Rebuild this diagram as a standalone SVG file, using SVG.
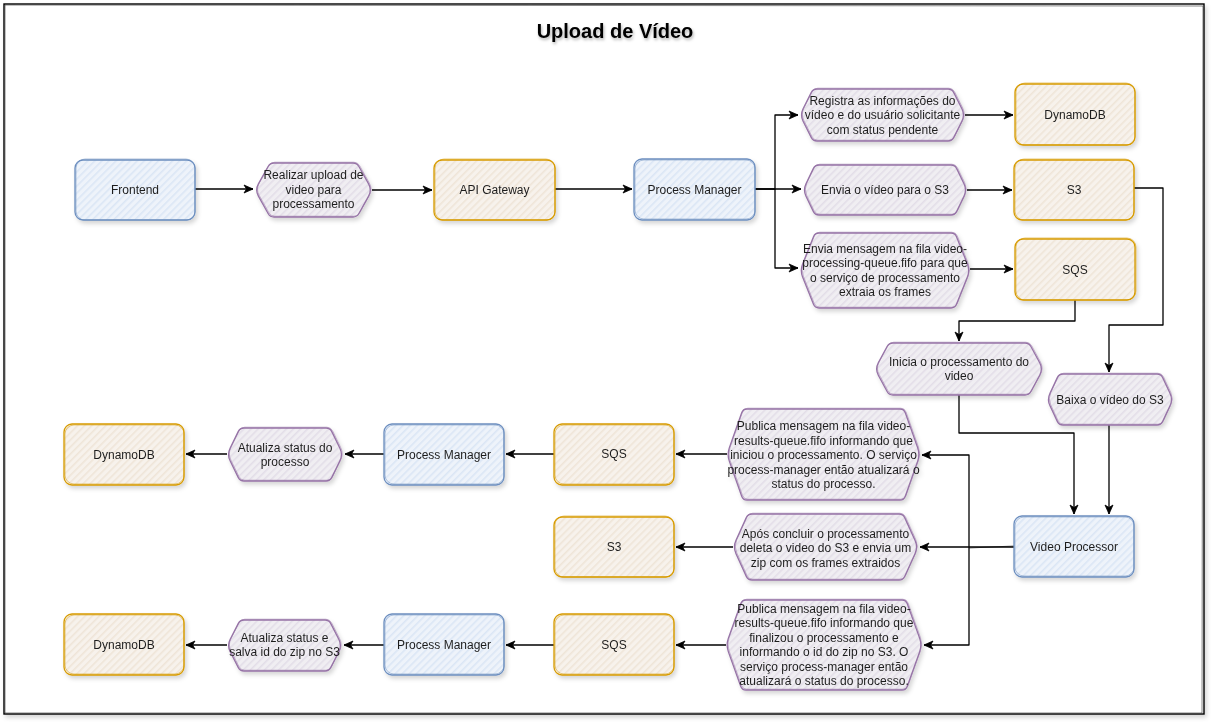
<svg xmlns="http://www.w3.org/2000/svg" width="1213" height="723" viewBox="0 0 1213 723">
<style>
  text { font-family: "Liberation Sans", Arial, sans-serif; font-size: 12px; fill: #1e1e1e; text-anchor: middle; }
  .title { font-size: 20px; font-weight: bold; fill: #000; }
  .blue { fill: url(#hBlue); stroke: #6c8ebf; stroke-width: 1.3; }
  .orange { fill: url(#hOrange); stroke: #d79b00; stroke-width: 1.3; }
  .purple { fill: url(#hPurple); stroke: #9673a6; stroke-width: 1.3; stroke-linejoin: round; }
  .sk { fill: none; stroke-width: 0.8; stroke-opacity: 0.65; }
  .skb { stroke: #6c8ebf; } .sko { stroke: #d79b00; } .skp { stroke: #9673a6; stroke-linejoin: round; }
  .node { filter: url(#shadow); }
  .edge { fill: none; stroke: #000; stroke-width: 1.3; marker-end: url(#arrow); stroke-linejoin: round; }
  .edge2 { fill: none; stroke: #000; stroke-width: 0.7; stroke-opacity: 0.8; }
</style>
<defs>
  <pattern id="hBlue" patternUnits="userSpaceOnUse" width="5" height="5" patternTransform="rotate(45)">
    <rect width="5" height="5" fill="#eef3fa"/>
    <rect width="1.6" height="5" fill="#dbe6f5"/>
  </pattern>
  <pattern id="hOrange" patternUnits="userSpaceOnUse" width="5" height="5" patternTransform="rotate(45)">
    <rect width="5" height="5" fill="#f7f2ec"/>
    <rect width="1.6" height="5" fill="#efe5d8"/>
  </pattern>
  <pattern id="hPurple" patternUnits="userSpaceOnUse" width="5" height="5" patternTransform="rotate(45)">
    <rect width="5" height="5" fill="#f0eef2"/>
    <rect width="1.6" height="5" fill="#e3dee8"/>
  </pattern>
  <filter id="shadow" x="-10%" y="-10%" width="130%" height="140%">
    <feDropShadow dx="2" dy="3" stdDeviation="2" flood-color="#000" flood-opacity="0.16"/>
  </filter>
  <filter id="tshadow" x="-10%" y="-30%" width="130%" height="180%">
    <feDropShadow dx="1" dy="2" stdDeviation="1.5" flood-color="#000" flood-opacity="0.3"/>
  </filter>
  <marker id="arrow" markerUnits="userSpaceOnUse" markerWidth="12" markerHeight="10" refX="10" refY="5" orient="auto">
    <path d="M1,1 L10,5 L1,9 L3.5,5 Z" fill="#000" stroke="#000" stroke-width="0.8" stroke-linejoin="round"/>
  </marker>
</defs>

<rect width="1213" height="723" fill="#fff"/>
<g id="frame" filter="url(#shadow)">
  <rect x="4" y="4" width="1200" height="710" fill="#fff" stroke="#000" stroke-width="1.4"/>
  <path d="M5,5 L1203,6 L1202,713 L5,713 Z" fill="none" stroke="#333" stroke-width="0.6"/>
</g>
<text id="title" class="title" x="615" y="38" filter="url(#tshadow)">Upload de Vídeo</text>

<g id="connectors">
  <path class="edge" d="M195,189 L253,189"/>
  <path class="edge" d="M372,190 L432,190"/>
  <path class="edge" d="M555,189 L632,189"/>
  <path class="edge" d="M755,189 L775,189 L775,115 L798,115"/>
  <path class="edge" d="M755,189 L801,189"/>
  <path class="edge" d="M775,189 L775,268 L798,268"/>
  <path class="edge" d="M965,115 L1013,115"/>
  <path class="edge" d="M967,190 L1012,190"/>
  <path class="edge" d="M970,269 L1013,269"/>
  <path class="edge" d="M1134,188 L1163,188 L1163,325 L1109,325 L1109,372"/>
  <path class="edge" d="M1075,300 L1075,321 L959,321 L959,341"/>
  <path class="edge" d="M959,395 L959,433 L1074,433 L1074,514"/>
  <path class="edge" d="M1109,425 L1109,514"/>
  <path class="edge" d="M1014,547 L920,547"/>
  <path class="edge2" d="M1014,546 L969,548"/>
  <path class="edge" d="M969,547 L969,455 L922,455"/>
  <path class="edge" d="M969,547 L969,645 L924,645"/>
  <path class="edge" d="M733,547 L676,547"/>
  <path class="edge" d="M727,454 L676,454"/>
  <path class="edge" d="M554,454 L506,454"/>
  <path class="edge" d="M384,454 L345,454"/>
  <path class="edge" d="M227,454 L186,454"/>
  <path class="edge" d="M726,645 L676,645"/>
  <path class="edge" d="M554,645 L506,645"/>
  <path class="edge" d="M384,645 L344,645"/>
  <path class="edge" d="M227,645 L186,645"/>
</g>

<g id="frontend" class="node">
  <rect class="blue" x="75" y="160" width="120" height="60" rx="8"/>
  <rect class="sk skb" x="76" y="159" width="119" height="61" rx="9"/>
  <text x="135" y="194">Frontend</text>
</g>
<g id="hex-upload" class="node">
  <path class="purple" d="M274,163 L353,163 Q357,163 358.9,166.5 L368.6,183.9 Q372,190 368.6,196.1 L358.9,213.5 Q357,217 353,217 L274,217 Q270,217 268.1,213.5 L258.4,196.1 Q255,190 258.4,183.9 L268.1,166.5 Q270,163 274,163 Z"/>
  <path class="sk skp" transform="translate(0.8,-0.8)" d="M274,163 L353,163 Q357,163 358.9,166.5 L368.6,183.9 Q372,190 368.6,196.1 L358.9,213.5 Q357,217 353,217 L274,217 Q270,217 268.1,213.5 L258.4,196.1 Q255,190 258.4,183.9 L268.1,166.5 Q270,163 274,163 Z"/>
  <text><tspan x="313.5" y="179">Realizar upload de</tspan><tspan x="313.5" y="193.5">video para</tspan><tspan x="313.5" y="208">processamento</tspan></text>
</g>
<g id="api-gateway" class="node">
  <rect class="orange" x="434" y="160" width="121" height="60" rx="8"/>
  <rect class="sk sko" x="435" y="159" width="120" height="61" rx="9"/>
  <text x="494.5" y="194">API Gateway</text>
</g>
<g id="process-manager-1" class="node">
  <rect class="blue" x="634" y="159" width="121" height="61" rx="8"/>
  <rect class="sk skb" x="635" y="160" width="120" height="59" rx="9"/>
  <text x="694.5" y="194">Process Manager</text>
</g>
<g id="hex-registra" class="node">
  <path class="purple" d="M817,89 L948,89 Q952,89 953.8,92.6 L961.9,108.7 Q965,115 961.9,121.3 L953.8,137.4 Q952,141 948,141 L817,141 Q813,141 811.2,137.4 L803.1,121.3 Q800,115 803.1,108.7 L811.2,92.6 Q813,89 817,89 Z"/>
  <path class="sk skp" transform="translate(0.8,-0.8)" d="M817,89 L948,89 Q952,89 953.8,92.6 L961.9,108.7 Q965,115 961.9,121.3 L953.8,137.4 Q952,141 948,141 L817,141 Q813,141 811.2,137.4 L803.1,121.3 Q800,115 803.1,108.7 L811.2,92.6 Q813,89 817,89 Z"/>
  <text><tspan x="882.5" y="104.5">Registra as informações do</tspan><tspan x="882.5" y="119">vídeo e do usuário solicitante</tspan><tspan x="882.5" y="133.5">com status pendente</tspan></text>
</g>
<g id="dynamodb-1" class="node">
  <rect class="orange" x="1015" y="84" width="120" height="61" rx="8"/>
  <rect class="sk sko" x="1016" y="83" width="119" height="62" rx="9"/>
  <text x="1075" y="119">DynamoDB</text>
</g>
<g id="hex-envia-s3" class="node">
  <path class="purple" d="M819,165 L951,165 Q955,165 956.7,168.6 L964,183.7 Q967,190 964,196.3 L956.7,211.4 Q955,215 951,215 L819,215 Q815,215 813.3,211.4 L806,196.3 Q803,190 806,183.7 L813.3,168.6 Q815,165 819,165 Z"/>
  <path class="sk skp" transform="translate(0.8,-0.8)" d="M819,165 L951,165 Q955,165 956.7,168.6 L964,183.7 Q967,190 964,196.3 L956.7,211.4 Q955,215 951,215 L819,215 Q815,215 813.3,211.4 L806,196.3 Q803,190 806,183.7 L813.3,168.6 Q815,165 819,165 Z"/>
  <text x="885" y="194">Envia o vídeo para o S3</text>
</g>
<g id="s3-1" class="node">
  <rect class="orange" x="1014" y="160" width="120" height="60" rx="8"/>
  <rect class="sk sko" x="1015" y="159" width="119" height="61" rx="9"/>
  <text x="1074" y="194">S3</text>
</g>
<g id="hex-envia-sqs" class="node">
  <path class="purple" d="M819,233 L951,233 Q955,233 956.5,236.7 L967.4,264 Q970,270.5 967.4,277 L956.5,304.3 Q955,308 951,308 L819,308 Q815,308 813.5,304.3 L802.6,277 Q800,270.5 802.6,264 L813.5,236.7 Q815,233 819,233 Z"/>
  <path class="sk skp" transform="translate(0.8,-0.8)" d="M819,233 L951,233 Q955,233 956.5,236.7 L967.4,264 Q970,270.5 967.4,277 L956.5,304.3 Q955,308 951,308 L819,308 Q815,308 813.5,304.3 L802.6,277 Q800,270.5 802.6,264 L813.5,236.7 Q815,233 819,233 Z"/>
  <text><tspan x="885" y="252.75">Envia mensagem na fila video-</tspan><tspan x="885" y="267.25">processing-queue.fifo para que</tspan><tspan x="885" y="281.75">o serviço de processamento</tspan><tspan x="885" y="296.25">extraia os frames</tspan></text>
</g>
<g id="sqs-1" class="node">
  <rect class="orange" x="1015" y="239" width="120" height="61" rx="8"/>
  <rect class="sk sko" x="1016" y="238" width="120" height="62" rx="9"/>
  <text x="1075" y="274">SQS</text>
</g>
<g id="hex-inicia" class="node">
  <path class="purple" d="M893,343 L1025,343 Q1029,343 1030.9,346.5 L1039.7,362.8 Q1043,369 1039.7,375.2 L1030.9,391.5 Q1029,395 1025,395 L893,395 Q889,395 887.1,391.5 L878.3,375.2 Q875,369 878.3,362.8 L887.1,346.5 Q889,343 893,343 Z"/>
  <path class="sk skp" transform="translate(0.8,-0.8)" d="M893,343 L1025,343 Q1029,343 1030.9,346.5 L1039.7,362.8 Q1043,369 1039.7,375.2 L1030.9,391.5 Q1029,395 1025,395 L893,395 Q889,395 887.1,391.5 L878.3,375.2 Q875,369 878.3,362.8 L887.1,346.5 Q889,343 893,343 Z"/>
  <text><tspan x="959" y="365.75">Inicia o processamento do</tspan><tspan x="959" y="380.25">video</tspan></text>
</g>
<g id="hex-baixa" class="node">
  <path class="purple" d="M1063,374 L1157,374 Q1161,374 1162.7,377.6 L1170,393.2 Q1173,399.5 1170,405.8 L1162.7,421.4 Q1161,425 1157,425 L1063,425 Q1059,425 1057.3,421.4 L1050,405.8 Q1047,399.5 1050,393.2 L1057.3,377.6 Q1059,374 1063,374 Z"/>
  <path class="sk skp" transform="translate(0.8,-0.8)" d="M1063,374 L1157,374 Q1161,374 1162.7,377.6 L1170,393.2 Q1173,399.5 1170,405.8 L1162.7,421.4 Q1161,425 1157,425 L1063,425 Q1059,425 1057.3,421.4 L1050,405.8 Q1047,399.5 1050,393.2 L1057.3,377.6 Q1059,374 1063,374 Z"/>
  <text x="1110" y="403.5">Baixa o vídeo do S3</text>
</g>
<g id="video-processor" class="node">
  <rect class="blue" x="1014" y="516" width="120" height="61" rx="8"/>
  <rect class="sk skb" x="1015" y="517" width="119" height="59" rx="9"/>
  <text x="1074" y="551">Video Processor</text>
</g>
<g id="hex-publica-1" class="node">
  <path class="purple" d="M747,409 L900,409 Q904,409 905.3,412.8 L917.7,447.9 Q920,454.5 917.7,461.1 L905.3,496.2 Q904,500 900,500 L747,500 Q743,500 741.7,496.2 L729.3,461.1 Q727,454.5 729.3,447.9 L741.7,412.8 Q743,409 747,409 Z"/>
  <path class="sk skp" transform="translate(0.8,-0.8)" d="M747,409 L900,409 Q904,409 905.3,412.8 L917.7,447.9 Q920,454.5 917.7,461.1 L905.3,496.2 Q904,500 900,500 L747,500 Q743,500 741.7,496.2 L729.3,461.1 Q727,454.5 729.3,447.9 L741.7,412.8 Q743,409 747,409 Z"/>
  <text><tspan x="823.5" y="430">Publica mensagem na fila video-</tspan><tspan x="823.5" y="444.5">results-queue.fifo informando que</tspan><tspan x="823.5" y="459">iniciou o processamento. O serviço</tspan><tspan x="823.5" y="473.5">process-manager então atualizará o</tspan><tspan x="823.5" y="488">status do processo.</tspan></text>
</g>
<g id="sqs-2" class="node">
  <rect class="orange" x="554" y="424" width="120" height="61" rx="8"/>
  <rect class="sk sko" x="555" y="425" width="119" height="59" rx="9"/>
  <text x="614" y="458">SQS</text>
</g>
<g id="process-manager-2" class="node">
  <rect class="blue" x="384" y="424" width="120" height="61" rx="8"/>
  <rect class="sk skb" x="385" y="425" width="119" height="59" rx="9"/>
  <text x="444" y="459">Process Manager</text>
</g>
<g id="hex-atualiza-1" class="node">
  <path class="purple" d="M244,428 L326,428 Q330,428 331.8,431.6 L339.9,448.2 Q343,454.5 339.9,460.8 L331.8,477.4 Q330,481 326,481 L244,481 Q240,481 238.2,477.4 L230.1,460.8 Q227,454.5 230.1,448.2 L238.2,431.6 Q240,428 244,428 Z"/>
  <path class="sk skp" transform="translate(0.8,-0.8)" d="M244,428 L326,428 Q330,428 331.8,431.6 L339.9,448.2 Q343,454.5 339.9,460.8 L331.8,477.4 Q330,481 326,481 L244,481 Q240,481 238.2,477.4 L230.1,460.8 Q227,454.5 230.1,448.2 L238.2,431.6 Q240,428 244,428 Z"/>
  <text><tspan x="285" y="451.75">Atualiza status do</tspan><tspan x="285" y="466.25">processo</tspan></text>
</g>
<g id="dynamodb-2" class="node">
  <rect class="orange" x="64" y="424" width="120" height="61" rx="8"/>
  <rect class="sk sko" x="65" y="425" width="119" height="59" rx="9"/>
  <text x="124" y="459">DynamoDB</text>
</g>
<g id="s3-2" class="node">
  <rect class="orange" x="554" y="517" width="120" height="60" rx="8"/>
  <rect class="sk sko" x="555" y="516" width="119" height="61" rx="9"/>
  <text x="614" y="551">S3</text>
</g>
<g id="hex-apos" class="node">
  <path class="purple" d="M752,514 L899,514 Q903,514 904.7,517.6 L915.1,540.6 Q918,547 915.1,553.4 L904.7,576.4 Q903,580 899,580 L752,580 Q748,580 746.3,576.4 L735.9,553.4 Q733,547 735.9,540.6 L746.3,517.6 Q748,514 752,514 Z"/>
  <path class="sk skp" transform="translate(0.8,-0.8)" d="M752,514 L899,514 Q903,514 904.7,517.6 L915.1,540.6 Q918,547 915.1,553.4 L904.7,576.4 Q903,580 899,580 L752,580 Q748,580 746.3,576.4 L735.9,553.4 Q733,547 735.9,540.6 L746.3,517.6 Q748,514 752,514 Z"/>
  <text><tspan x="825.5" y="537.5">Após concluir o processamento</tspan><tspan x="825.5" y="552">deleta o video do S3 e envia um</tspan><tspan x="825.5" y="566.5">zip com os frames extraidos</tspan></text>
</g>
<g id="hex-publica-2" class="node">
  <path class="purple" d="M746,600 L902,600 Q906,600 907.3,603.8 L919.7,638.4 Q922,645 919.7,651.6 L907.3,686.2 Q906,690 902,690 L746,690 Q742,690 740.7,686.2 L728.3,651.6 Q726,645 728.3,638.4 L740.7,603.8 Q742,600 746,600 Z"/>
  <path class="sk skp" transform="translate(0.8,-0.8)" d="M746,600 L902,600 Q906,600 907.3,603.8 L919.7,638.4 Q922,645 919.7,651.6 L907.3,686.2 Q906,690 902,690 L746,690 Q742,690 740.7,686.2 L728.3,651.6 Q726,645 728.3,638.4 L740.7,603.8 Q742,600 746,600 Z"/>
  <text><tspan x="824" y="612.75">Publica mensagem na fila video-</tspan><tspan x="824" y="627.25">results-queue.fifo informando que</tspan><tspan x="824" y="641.75">finalizou o processamento e</tspan><tspan x="824" y="656.25">informando o id do zip no S3. O</tspan><tspan x="824" y="670.75">serviço process-manager então</tspan><tspan x="824" y="685.25">atualizará o status do processo.</tspan></text>
</g>
<g id="sqs-3" class="node">
  <rect class="orange" x="554" y="614" width="120" height="61" rx="8"/>
  <rect class="sk sko" x="555" y="615" width="119" height="59" rx="9"/>
  <text x="614" y="649">SQS</text>
</g>
<g id="process-manager-3" class="node">
  <rect class="blue" x="384" y="614" width="120" height="61" rx="8"/>
  <rect class="sk skb" x="385" y="615" width="119" height="59" rx="9"/>
  <text x="444" y="649">Process Manager</text>
</g>
<g id="hex-atualiza-2" class="node">
  <path class="purple" d="M244,620 L325,620 Q329,620 330.8,623.6 L338.8,639.3 Q342,645.5 338.8,651.7 L330.8,667.4 Q329,671 325,671 L244,671 Q240,671 238.2,667.4 L230.2,651.7 Q227,645.5 230.2,639.3 L238.2,623.6 Q240,620 244,620 Z"/>
  <path class="sk skp" transform="translate(0.8,-0.8)" d="M244,620 L325,620 Q329,620 330.8,623.6 L338.8,639.3 Q342,645.5 338.8,651.7 L330.8,667.4 Q329,671 325,671 L244,671 Q240,671 238.2,667.4 L230.2,651.7 Q227,645.5 230.2,639.3 L238.2,623.6 Q240,620 244,620 Z"/>
  <text><tspan x="284.5" y="641.75">Atualiza status e</tspan><tspan x="284.5" y="656.25">salva id do zip no S3</tspan></text>
</g>
<g id="dynamodb-3" class="node">
  <rect class="orange" x="64" y="614" width="120" height="61" rx="8"/>
  <rect class="sk sko" x="65" y="615" width="119" height="59" rx="9"/>
  <text x="124" y="649">DynamoDB</text>
</g>
</svg>
